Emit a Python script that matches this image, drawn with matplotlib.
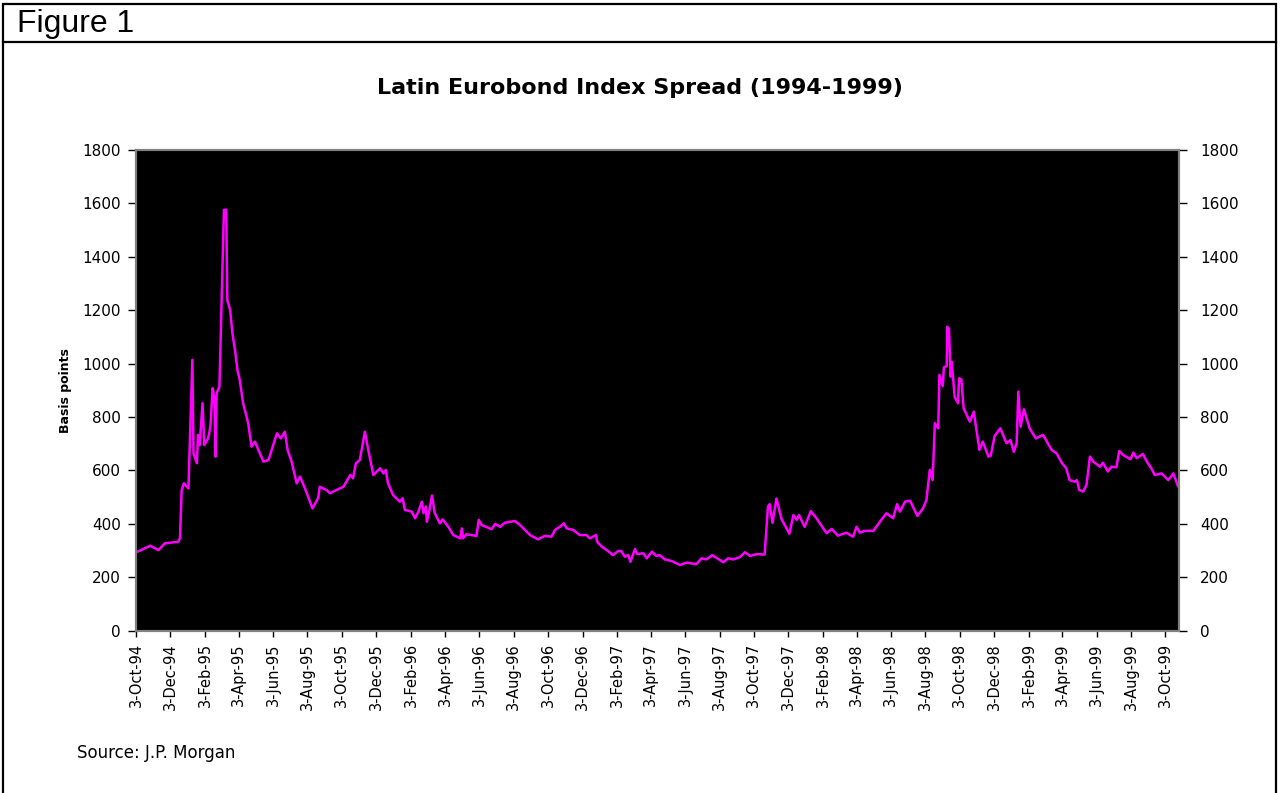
import numpy as np
import matplotlib
matplotlib.use("Agg")
import matplotlib.pyplot as plt
from matplotlib.lines import Line2D
from matplotlib.patches import Rectangle

# days after 3-Oct-94 and spread in basis points
start = np.datetime64("1994-10-03")
days = [0, 25, 40, 51, 75, 78, 81, 85, 93, 100, 102, 108, 110, 113, 118, 121,
        128, 132, 136, 139, 141, 143, 148, 156, 160, 162, 167, 171, 176, 180,
        184, 190, 199, 205, 211, 226, 235, 250, 257, 264, 269, 276, 285, 291,
        296, 303, 313, 323, 326, 338, 344, 356, 368, 380, 385, 390, 397, 406,
        412, 421, 433, 439, 443, 447, 456, 468, 473, 477, 489, 495, 501, 507,
        510, 514, 516, 520, 525, 530, 539, 544, 554, 563, 575, 578, 580, 586,
        604, 608, 613, 631, 637, 646, 654, 672, 681, 690, 699, 713, 725, 737,
        743, 752, 759, 764, 776, 787, 799, 805, 816, 818, 826, 835, 846, 855,
        861, 867, 873, 877, 885, 889, 900, 906, 915, 923, 929, 938, 950, 965,
        977, 994, 1003, 1012, 1022, 1033, 1042, 1050, 1059, 1071, 1080, 1089,
        1101, 1115, 1121, 1124, 1129, 1136, 1145, 1159, 1166, 1172, 1176, 1186,
        1197, 1207, 1225, 1234, 1245, 1260, 1272, 1278, 1284, 1293, 1308, 1322,
        1331, 1343, 1350, 1355, 1364, 1373, 1386, 1396, 1402, 1408, 1413, 1417,
        1423, 1425, 1431, 1433, 1438, 1439, 1442, 1445, 1447, 1452, 1458, 1460,
        1464, 1468, 1479, 1486, 1496, 1502, 1512, 1516, 1523, 1533, 1544, 1551,
        1557, 1562, 1565, 1569, 1575, 1585, 1596, 1609, 1624, 1633, 1642, 1650,
        1656, 1665, 1669, 1673, 1680, 1686, 1692, 1698, 1710, 1715, 1724, 1730,
        1739, 1744, 1751, 1764, 1769, 1775, 1786, 1793, 1801, 1807, 1819, 1831,
        1840, 1848]
spread = [293, 318, 302, 327, 333, 346, 527, 552, 533, 1014, 664, 627, 733, 695,
          852, 695, 720, 764, 908, 870, 652, 889, 914, 1576, 1576, 1238, 1201,
          1114, 1045, 976, 939, 852, 777, 689, 708, 633, 639, 739, 720, 745, 677,
          633, 552, 577, 552, 515, 458, 496, 539, 527, 515, 527, 539, 583, 571,
          627, 639, 745, 677, 583, 608, 589, 602, 552, 508, 483, 496, 452, 446,
          421, 446, 483, 440, 465, 408, 446, 506, 440, 402, 417, 389, 358, 346,
          383, 346, 361, 355, 415, 396, 380, 400, 389, 404, 411, 396, 377, 358,
          342, 355, 352, 377, 389, 402, 383, 377, 358, 358, 346, 358, 333, 315,
          302, 283, 298, 298, 277, 283, 258, 306, 287, 290, 271, 296, 280, 283,
          267, 261, 246, 255, 249, 271, 267, 283, 268, 256, 271, 267, 275, 294,
          280, 287, 285, 465, 474, 404, 495, 418, 363, 433, 415, 433, 389, 448,
          421, 365, 381, 356, 367, 352, 389, 367, 374, 374, 415, 440, 421, 474,
          446, 483, 487, 430, 458, 489, 602, 564, 777, 758, 958, 916, 986, 991,
          1138, 1130, 951, 1007, 876, 852, 945, 941, 833, 783, 820, 677, 708,
          652, 655, 729, 758, 702, 714, 670, 702, 895, 764, 829, 758, 720, 733,
          677, 664, 629, 608, 564, 558, 564, 527, 521, 546, 652, 633, 614, 629,
          596, 614, 612, 673, 658, 642, 667, 646, 662, 633, 608, 583, 589, 564,
          589, 542]

tick_dates = ["1994-10-03", "1994-12-03", "1995-02-03", "1995-04-03", "1995-06-03",
              "1995-08-03", "1995-10-03", "1995-12-03", "1996-02-03", "1996-04-03",
              "1996-06-03", "1996-08-03", "1996-10-03", "1996-12-03", "1997-02-03",
              "1997-04-03", "1997-06-03", "1997-08-03", "1997-10-03", "1997-12-03",
              "1998-02-03", "1998-04-03", "1998-06-03", "1998-08-03", "1998-10-03",
              "1998-12-03", "1999-02-03", "1999-04-03", "1999-06-03", "1999-08-03",
              "1999-10-03"]
y_ticks = [0, 200, 400, 600, 800, 1000, 1200, 1400, 1600, 1800]

dates = start + np.array(days).astype("timedelta64[D]")
ticks = np.array(tick_dates, dtype="datetime64[D]")
labels = []
for t in ticks.astype(object):
    labels.append(str(t.day) + "-" + t.strftime("%b-%y"))

fig = plt.figure(figsize=(12.8, 7.93), dpi=100)
ax = fig.add_axes([136 / 1280, 1 - 630.7 / 793, 1043 / 1280, 480.7 / 793])
ax.set_facecolor("black")
ax.plot(dates, spread, color="#FF00FF", lw=1.8)

ax.set_ylim(0, 1800)
ax.set_yticks(y_ticks)
ax.set_xlim(start, start + np.timedelta64(1850, "D"))
ax.set_xticks(ticks)
ax.set_xticklabels(labels, rotation=90, fontsize=10.5)
ax.tick_params(axis="y", length=6, width=1, pad=5, labelsize=11)
ax.tick_params(axis="x", length=4, width=1, pad=5)

# same scale repeated on the right
ax2 = ax.twinx()
ax2.set_ylim(0, 1800)
ax2.set_yticks(y_ticks)
ax2.tick_params(axis="y", length=6, width=1, pad=9, labelsize=11)

for a in (ax, ax2):
    for s in a.spines.values():
        s.set_color("#808080")
        s.set_linewidth(1.5)
ax.set_ylabel("Basis points", fontsize=9, fontweight="bold")
ax.yaxis.set_label_coords(-0.061, 0.5)

fig.text(0.5, 1 - 88 / 793, "Latin Eurobond Index Spread (1994-1999)", ha="center",
         va="center", fontsize=16, fontweight="bold")
fig.text(17 / 1280, 1 - 24 / 793, "Figure 1", ha="left", va="center", fontsize=23,
         family="Liberation Sans")
fig.text(77 / 1280, 1 - 753 / 793, "Source: J.P. Morgan", ha="left", va="center",
         fontsize=12)

# frame round the figure and the header rule
fig.patches.append(Rectangle((2.5 / 1280, -0.01), 1273.5 / 1280, 1 - 3.5 / 793 + 0.01,
                             transform=fig.transFigure, fill=False, lw=1.6, ec="black"))
fig.lines.append(Line2D([2.5 / 1280, 1276 / 1280], [1 - 42 / 793, 1 - 42 / 793],
                        transform=fig.transFigure, lw=1.6, color="black"))

fig.savefig("out.png", dpi=100, facecolor="white")
